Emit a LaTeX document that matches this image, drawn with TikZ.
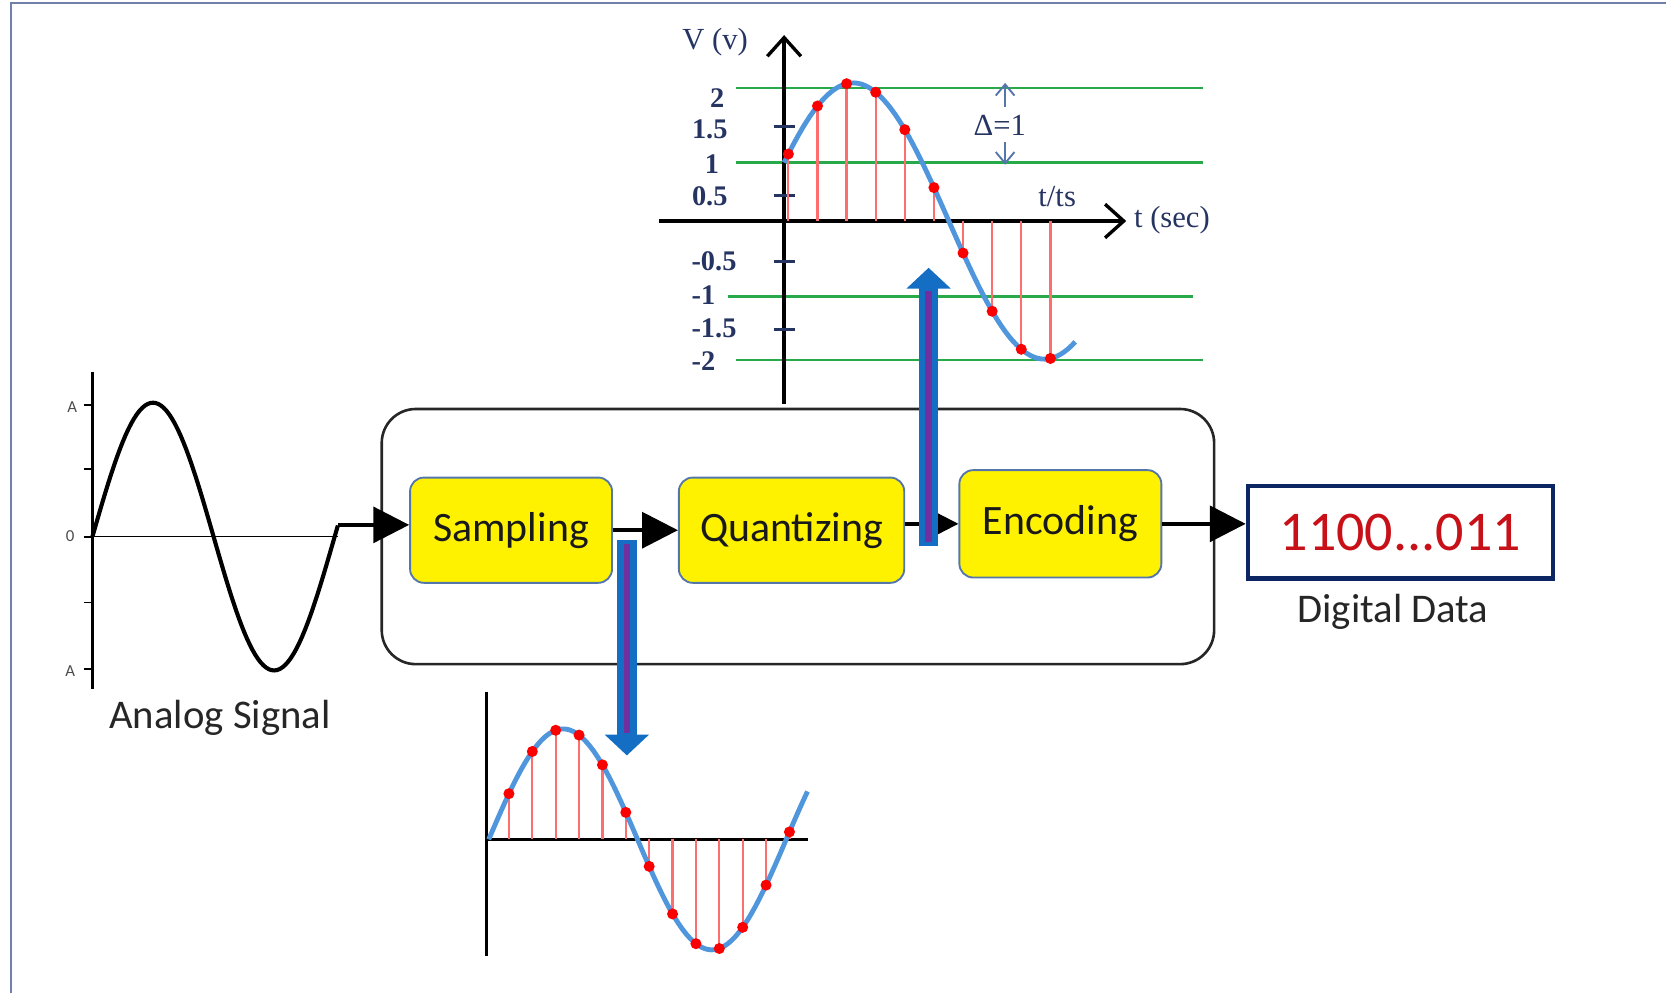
\documentclass[tikz,border=0pt]{standalone}
\usepackage{fontspec}
\setmainfont{Carlito}
\newfontfamily\graffont{Liberation Serif}
\usetikzlibrary{arrows.meta}

\definecolor{framecol}{RGB}{112,128,168}
\definecolor{blockedge}{RGB}{84,118,170}
\definecolor{datanavy}{RGB}{12,38,100}
\definecolor{datared}{RGB}{200,16,24}
\definecolor{labelnavy}{RGB}{38,52,98}
\definecolor{levelgreen}{RGB}{40,170,75}
\definecolor{wavecol}{RGB}{80,150,220}
\definecolor{dotred}{RGB}{250,0,0}
\definecolor{stemred}{RGB}{255,110,110}
\definecolor{flowblue}{RGB}{20,110,195}
\definecolor{flowpurple}{RGB}{112,48,160}

\begin{document}
\begin{tikzpicture}[
    x=0.01cm, y=-0.01cm,
    % Blocos do conversor
    block/.style={
        draw=blockedge, line width=0.5pt, fill=yellow,
        rounded corners=0.13cm, minimum width=1.9cm,
        minimum height=0.99cm, font=\fontsize{11.2}{13}\selectfont,
        text=black!90, inner sep=0pt
    },
    % Moldura arredondada do conversor
    converter/.style={
        draw=black!85, line width=0.7pt, rounded corners=0.32cm,
        minimum width=7.83cm, minimum height=2.4cm
    },
    % Palavra digital de saida
    word/.style={
        draw=datanavy, line width=1.15pt, minimum width=2.87cm,
        minimum height=0.87cm, text=datared,
        font=\fontsize{15}{18}\selectfont
    },
    wavecap/.style={font=\fontsize{10.9}{13}\selectfont, text=black!85},
    levelnum/.style={
        font=\graffont\bfseries\fontsize{7.6}{8}\selectfont,
        text=labelnavy, inner sep=0pt
    },
    axlabel/.style={
        font=\graffont\fontsize{8.2}{9}\selectfont,
        text=labelnavy, inner sep=0pt
    },
    flow/.style={draw, line width=1pt, -{Triangle[length=9.6pt, width=9.6pt]}},
    bigflow/.style={draw=flowblue, line width=5.2pt, -{Triangle[length=5.6pt, width=11.6pt]}},
    stripe/.style={draw=flowpurple, line width=1.8pt},
    axisline/.style={draw, line width=0.9pt},
    wave/.style={draw=wavecol, line width=1.3pt},
    samplestem/.style={draw=stemred, line width=0.6pt},
    qlevel/.style={draw=levelgreen, line width=0.6pt},
    deltaarrow/.style={draw=blockedge, line width=0.5pt, -{Straight Barb[length=3pt, width=5pt]}}
]
\useasboundingbox (0,0) rectangle (1568,935);

% ---- MOLDURA ----
\draw[draw=framecol, line width=0.6pt] (10,935) -- (10,3) -- (1568,3);

% ---- SINAL ANALOGICO ----
\draw[line width=0.7pt] (87,350) -- (87,648);
\draw[line width=0.4pt] (87,505) -- (318,505);
\foreach \ty in {381,441,505,567,630}
    \draw[line width=0.5pt] (79,\ty) -- (87,\ty);
\node[font=\fontsize{4.5}{5}\selectfont, text=black!70] (an_a1) at (68,383) {A};
\node[font=\fontsize{4.5}{5}\selectfont, text=black!70] (an_0)  at (66,505) {0};
\node[font=\fontsize{4.5}{5}\selectfont, text=black!70] (an_a2) at (66,632) {A};
\draw[line width=1.1pt] plot[domain=87:318, samples=90] (\x, {505-126*sin((\x-87)/228*360)});
\coordinate (an_end) at (318,494);
\node[wavecap] (an_cap) at (207,676) {Analog Signal};

% ---- CONVERSOR ----
\node[converter] (conv) at (751,505) {};
\node[block] (samp) at (481,499) {Sampling};
\node[block, minimum width=2.12cm] (quant) at (745,499) {Quantizing};
\node[block, minimum height=1.01cm] (enc) at (998,493) {Encoding};

% ---- SAIDA DIGITAL ----
\node[word] (dig) at (1318,501) {1100...011};
\node[wavecap] (dig_cap) at (1311,576) {Digital Data};

\draw[flow] (an_end) -- (an_end -| samp.west);
\draw[flow] (samp.east) -- (quant.west);
\draw[flow] (quant.east |- enc.west) -- (enc.west);
\draw[flow] (enc.east) -- (enc.east -| dig.west);

% ---- QUANTIZACAO (grafico superior) ----
\foreach \ly in {83,153,339}
    \draw[qlevel] (693,\ly) -- (1132,\ly);
\draw[qlevel] (685,279) -- (1123,279);
\draw[axisline, -{Straight Barb[length=5pt, width=9pt]}] (738,380) -- (738,33);
\draw[axisline, -{Straight Barb[length=5pt, width=9pt]}] (620,208) -- (1060,208);
\foreach \ty in {119,184,246,310}
    \draw[draw=labelnavy, line width=0.8pt] (728,\ty) -- (748,\ty);
\foreach \v/\lx/\ly [count=\i] in {2/675/92, 1.5/668/122, 1/670/154, 0.5/668/185,
        -0.5/672/246, -1/662/278, -1.5/672/309, -2/662/340}
    \node[levelnum] (num\i) at (\lx,\ly) {\v};
\node[axlabel] (q_v) at (673,40) {V (v)};
\node[axlabel] (q_t) at (1103,207) {t (sec)};
\node[axlabel] (q_ts) at (995,185) {t/ts};
\node[axlabel] (q_delta) at (941,118) {Δ=1};
\draw[deltaarrow] (946,101) -- (946,78);
\draw[deltaarrow] (946,134) -- (946,155);

\foreach \k in {0,...,9} {
    \pgfmathsetmacro\sx{742+27.4*\k}
    \pgfmathsetmacro\sy{208-130*sin(\sx-713)}
    \draw[samplestem] (\sx,208) -- (\sx,\sy);
}
\draw[wave] plot[domain=738:1012, samples=80] (\x, {208-130*sin(\x-713)});
\foreach \k in {0,...,9} {
    \pgfmathsetmacro\sx{742+27.4*\k}
    \pgfmathsetmacro\sy{208-130*sin(\sx-713)}
    \fill[dotred] (\sx,\sy) circle (0.052cm);
}

% ---- AMOSTRAGEM (grafico inferior) ----
\draw[axisline] (458,651) -- (458,900);
\draw[axisline] (458,790) -- (760,790);
\foreach \k in {0,...,12} {
    \pgfmathsetmacro\sx{479+22*\k}
    \pgfmathsetmacro\sy{790-104*sin((\sx-460)/280*360)}
    \draw[samplestem] (\sx,790) -- (\sx,\sy);
}
\draw[wave] plot[domain=460:760, samples=80] (\x, {790-104*sin((\x-460)/280*360)});
\foreach \k in {0,...,12} {
    \pgfmathsetmacro\sx{479+22*\k}
    \pgfmathsetmacro\sy{790-104*sin((\sx-460)/280*360)}
    \fill[dotred] (\sx,\sy) circle (0.052cm);
}

% ---- SETAS AZUIS ----
\coordinate (up_base) at (874,514);
\coordinate (up_tip)  at (874,252);
\coordinate (up_stop) at (874,274);
\draw[bigflow] (up_base) -- (up_tip);
\draw[stripe] (874,510) -- (up_stop);

\coordinate (dn_base) at (590,508);
\coordinate (dn_tip)  at (590,711);
\coordinate (dn_stop) at (590,690);
\draw[bigflow] (dn_base) -- (dn_tip);
\draw[stripe] (590,512) -- (dn_stop);

\end{tikzpicture}
\end{document}
